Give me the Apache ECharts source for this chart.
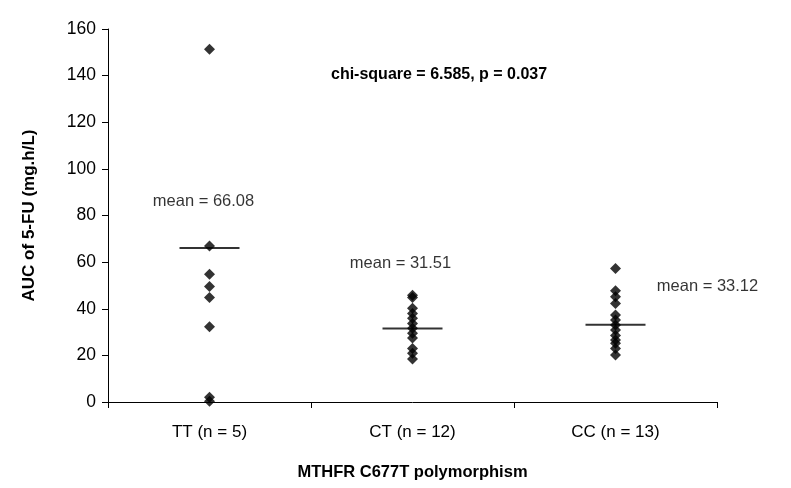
<!DOCTYPE html>
<html>
<head>
<meta charset="utf-8">
<style>
  html, body { margin: 0; padding: 0; background: #fff; }
  #chart { width: 791px; height: 488px; }
</style>
<script src="https://cdn.jsdelivr.net/npm/echarts@6/dist/echarts.min.js"></script>
</head>
<body>
<div id="chart"></div>
<script>
// Genotype groups on the x axis
const categories = ['TT (n = 5)', 'CT (n = 12)', 'CC (n = 13)'];

// Individual AUC values of 5-FU (mg.h/L) per genotype
const aucTT = [151.3, 66.9, 54.8, 49.5, 44.8, 32.3, 2.0, 0.3];
const aucCT = [45.8, 44.8, 40.2, 38.0, 35.9, 33.7, 31.6, 29.5, 27.5, 23.0, 20.9, 18.4];
const aucCC = [57.3, 47.7, 45.2, 42.3, 37.3, 35.2, 33.0, 30.9, 28.5, 26.6, 25.2, 23.0, 20.2];

// Group means
const means = [66.08, 31.51, 33.12];

// Y axis ticks
const yTicks = [0, 20, 40, 60, 80, 100, 120, 140, 160];

const statText = 'chi-square = 6.585, p = 0.037';

const FONT = '"Liberation Sans", Arial, sans-serif';

const groups = [aucTT, aucCT, aucCC];
const points = [];
groups.forEach((vals, i) => vals.forEach(v => points.push([i, v])));

// Where each mean label sits relative to its line
const meanLabelOffsets = [[-6, -46], [-12, -65], [92, -38]];

const chart = echarts.init(document.getElementById('chart'));
chart.setOption({
  animation: false,
  backgroundColor: '#fff',
  textStyle: { fontFamily: FONT, color: '#000' },
  grid: { left: 108, right: 74, top: 29, bottom: 86, containLabel: false },
  xAxis: {
    type: 'category',
    data: categories,
    boundaryGap: true,
    name: 'MTHFR C677T polymorphism',
    nameLocation: 'middle',
    nameGap: 62,
    nameTextStyle: { fontFamily: FONT, fontSize: 16.5, fontWeight: 'bold', color: '#000' },
    axisLine: { lineStyle: { color: '#000', width: 1 } },
    axisTick: { show: true, length: 6, lineStyle: { color: '#000' } },
    axisLabel: { fontFamily: FONT, fontSize: 17, color: '#000', margin: 22 },
    splitLine: { show: false }
  },
  yAxis: {
    type: 'value',
    min: yTicks[0],
    max: yTicks[yTicks.length - 1],
    interval: yTicks[1] - yTicks[0],
    name: 'AUC of 5-FU (mg.h/L)',
    nameLocation: 'middle',
    nameRotate: 90,
    nameGap: 70,
    nameTextStyle: { fontFamily: FONT, fontSize: 17, fontWeight: 'bold', color: '#000' },
    axisLine: { show: true, lineStyle: { color: '#000', width: 1 } },
    axisTick: { show: true, length: 6, lineStyle: { color: '#000' } },
    axisLabel: { fontFamily: FONT, fontSize: 17.5, color: '#000', margin: 12 },
    splitLine: { show: false }
  },
  series: [
    {
      name: 'AUC',
      type: 'scatter',
      symbol: 'diamond',
      symbolSize: 11,
      itemStyle: { color: '#000' },
      data: points,
      z: 3
    },
    {
      name: 'mean',
      type: 'scatter',
      symbol: 'rect',
      symbolSize: [60, 2],
      itemStyle: { color: '#000' },
      data: means.map((m, i) => ({
        value: [i, m],
        label: {
          show: true,
          position: 'inside',
          offset: meanLabelOffsets[i],
          formatter: 'mean = ' + m.toFixed(2),
          fontFamily: FONT,
          fontSize: 16.5,
          color: '#000'
        }
      })),
      z: 2
    }
  ],
  graphic: [
    {
      type: 'text',
      left: 331,
      top: 67,
      style: {
        text: statText,
        fontFamily: FONT,
        fontSize: 16,
        fontWeight: 'bold',
        fill: '#000'
      }
    }
  ]
});
</script>
</body>
</html>
